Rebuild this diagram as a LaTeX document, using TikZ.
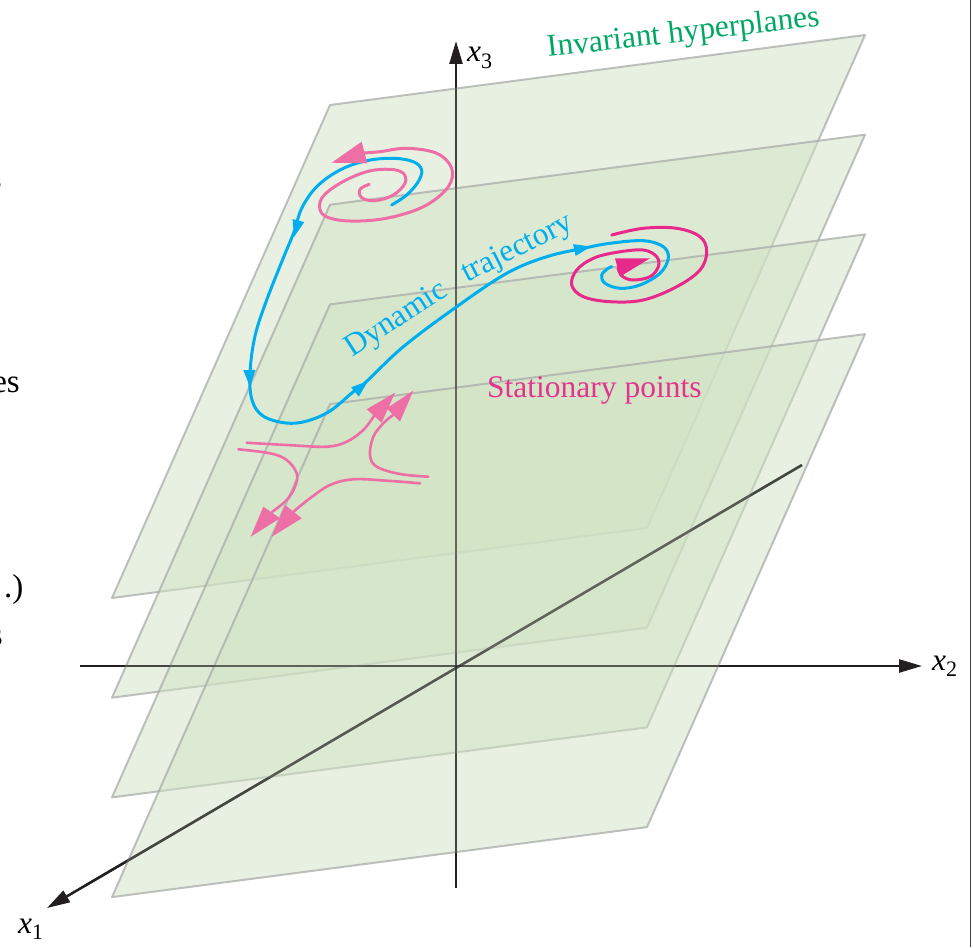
\documentclass[tikz,border=0pt]{standalone}
\usepackage{fontspec}
\setmainfont{Liberation Serif}
\usetikzlibrary{arrows.meta,calc}
\definecolor{axiscol}{RGB}{35,31,32}
\definecolor{planefill}{RGB}{208,226,196}
\definecolor{planeedge}{RGB}{170,172,170}
\definecolor{trajcol}{RGB}{0,174,239}
\definecolor{pinkl}{RGB}{238,110,166}
\definecolor{magen}{RGB}{233,40,140}
\definecolor{greentxt}{RGB}{0,168,100}
\definecolor{stattxt}{RGB}{228,52,142}
\newcommand\smallhead[3]{\fill[trajcol,shift={(#1,#2)},rotate=#3] (0,0) -- (-17,6) -- (-17,-6) -- cycle;}
\begin{document}
\begin{tikzpicture}[x=1pt,y=-1pt,
  every node/.style={inner sep=0pt,font=\fontsize{31.5}{36}\selectfont},
  axisline/.style={draw=axiscol,line width=2.5pt,-{Triangle[length=23pt,width=13pt]}},
  axisover/.style={draw=axiscol,line width=2.5pt,draw opacity=0.6},
  plane/.style={fill=planefill,fill opacity=0.5,draw=planeedge,draw opacity=0.75,line width=2pt,line join=round},
  curve/.style={line width=3pt,line cap=round,line join=round}]
\useasboundingbox (0,0) rectangle (973,947);
% page fragments at left edge
\node[anchor=base east,font=\fontsize{33}{36}\selectfont] (f1) at (2,189) {s};
\node[anchor=base east,font=\fontsize{33}{36}\selectfont] (f2) at (20,392) {es};
\node[anchor=base east,font=\fontsize{33}{36}\selectfont] (f3) at (23.5,597) {.)};
\node[anchor=base east,font=\fontsize{33}{36}\selectfont] (f4) at (3,645) {s};
\draw[axiscol!85,line width=1.8pt] (970.5,0) -- (970.5,947);
% axes
\coordinate (o) at (456,666);
\coordinate (x3b) at (456,888);
\coordinate (x3t) at (456,41);
\coordinate (x2l) at (80,666);
\coordinate (x2r) at (922,666);
\coordinate (x1b) at (802,465);
\coordinate (x1t) at (47,908);
\draw[axisline] (x3b) -- (x3t);
\draw[axisline] (x2l) -- (x2r);
\draw[axisline] (x1b) -- (x1t);
\node[anchor=base west] (lx3) at (467,62) {\textit{x}\textsubscript{3}};
\node[anchor=base west] (lx2) at (932,670) {\textit{x}\textsubscript{2}};
\node[anchor=base west] (lx1) at (18,933) {\textit{x}\textsubscript{1}};
% planes
\foreach \k in {0,1,2,3}{
  \pgfmathsetmacro\dy{99.7*\k}
  \path[plane] (330,{105+\dy}) -- (865,{35+\dy}) -- (647,{528+\dy}) -- (112,{598+\dy}) -- cycle;
}
% axes seen through the planes
\draw[axisover] (x3b) -- ([yshift=-10pt]x3t);
\draw[axisover] (x2l) -- ([xshift=-10pt]x2r);
\draw[axisover] (x1b) -- ($(x1b)!0.95!(x1t)$);
% dynamic trajectory
\draw[curve,trajcol] plot[smooth,tension=0.6] coordinates {
 (391.7,205) (406.7,195) (418,182) (421.7,170) (413.3,161.7) (393.3,158.3) (366.7,160.7)
 (340,170) (316.7,186.7) (301.7,208.3) (294,232) (283.3,258) (266.7,300) (255,336)
 (250,373) (252,400) (263,416) (286,423) (307,421) (330,411) (353,392) (366,382)
 (403.3,346.7) (456.7,306.7) (506.7,273.3) (546.7,256.7) (585,248) (610,243.3)
 (643.3,240.7) (663.3,246.7) (668.3,258.3) (660,273.3) (640,285) (620,288.3)
 (605,283.3) (601.7,275) (608.3,268.3) (611.7,266.7)};
\smallhead{294}{237}{-105}
\smallhead{250}{387}{-88}
\smallhead{368}{381}{40}
\smallhead{591}{246.5}{12}
% unstable spiral (top left)
\draw[curve,pinkl] plot[smooth,tension=0.6] coordinates {
 (369.3,184.3) (360,189.3) (361.7,197.7) (375,200.7) (393.3,195) (405,183.3) (403.3,173.3)
 (390,169.3) (366.7,171.7) (340,183.3) (321.7,198.3) (321.7,213.3) (338.3,220)
 (366.7,220.7) (396.7,216) (426.7,205) (448.3,186.7) (451.7,168.3) (436.7,153.3)
 (406.7,148.3) (380,151.7) (364,153)};
\fill[pinkl] (331.7,162.7) -- (361.7,141.7) -- (367.3,163.3) -- cycle;
% stable spiral (right)
\draw[curve,magen] plot[smooth,tension=0.6] coordinates {
 (611.7,235) (643.3,228.3) (676.7,228.3) (700,236.7) (706.7,251.7) (700,270) (676.7,286.7)
 (643.3,300) (610,301.7) (583.3,296.7) (571.7,285) (576.7,270) (593.3,258.3) (616.7,252.3)
 (643.3,250) (656.7,256.7) (658.3,266.7) (650,276.7) (633,280) (622,276) (618,268)};
\fill[magen] (650,258.3) -- (615,258.3) -- (620,276.7) -- cycle;
% saddle
\draw[curve,pinkl,line width=2.6pt] plot[smooth,tension=0.6] coordinates {
 (246.7,442.7) (286.7,445) (326.7,446.7) (346.7,441.7) (363.3,430) (374,416)};
\draw[curve,pinkl,line width=2.6pt] plot[smooth,tension=0.6] coordinates {
 (428.3,476.7) (400,474) (376.7,466.7) (370,455) (373.3,436.7) (383.3,423.3) (393,415)};
\draw[curve,pinkl,line width=2.6pt] plot[smooth,tension=0.6] coordinates {
 (238.3,449.3) (270,453.3) (286.7,460) (296.7,473.3) (295,486.7) (286.7,500) (272,512)};
\draw[curve,pinkl,line width=2.6pt] plot[smooth,tension=0.6] coordinates {
 (420,483.3) (386.7,480.7) (353.3,479.3) (330,485) (310,498.3) (293,512)};
\fill[pinkl] (395,392.7) -- (366.7,409.3) -- (381.7,422.7) -- cycle;
\fill[pinkl] (413.3,390.7) -- (386.7,408.3) -- (400,421.7) -- cycle;
\fill[pinkl] (250.7,536.7) -- (263.3,506.7) -- (280,518.3) -- cycle;
\fill[pinkl] (271.7,536.7) -- (285,505) -- (301.7,518.3) -- cycle;
% labels
\node[anchor=base west,rotate=6.5,text=greentxt] (inv) at (548,57) {Invariant hyperplanes};
\node[anchor=base west,text=stattxt] (stat) at (487,397) {Stationary points};
\node[anchor=base west,rotate=33,text=trajcol] (dyn) at (352,358) {Dynamic};
\node[anchor=base west,rotate=27,text=trajcol] (traj) at (467,283) {trajectory};
\end{tikzpicture}
\end{document}
